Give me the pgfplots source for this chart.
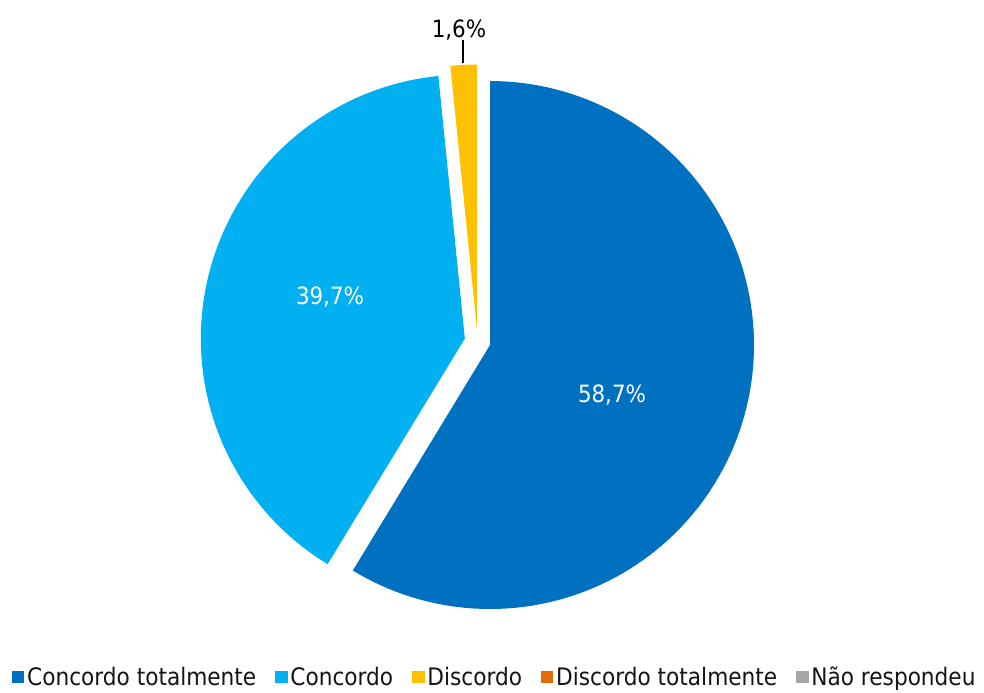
\documentclass[border=0pt]{standalone}
\usepackage{pgfplots}
\pgfplotsset{compat=1.18}
\usepackage{pgfplotstable}
\usepackage{fontspec}
\setmainfont{DejaVu Sans Condensed}
\definecolor{cDark}{HTML}{0070C0}
\definecolor{cLight}{HTML}{00B0F0}
\definecolor{cYellow}{HTML}{FFC000}
\definecolor{cOrange}{HTML}{E46C0A}
\definecolor{cGray}{HTML}{A6A6A6}

\pgfplotstableread{
share
58.7
39.7
1.6
}\piedata

\def\cx{477.5}
\def\cy{347.5}
\def\R{264}
\def\off{13}

\newcommand{\pieslice}[3]{%
  \pgfmathsetmacro{\midang}{(#1+#2)/2}%
  \edef\temp{\noexpand\addplot[fill=#3, draw=none, forget plot, samples at={-1,0,1,...,120}]
    ({\cx+\off*cos(\midang)+(x<0 ? 0 : \R)*cos(#1+(#2-#1)*max(x,0)/120)},
     {\cy+\off*sin(\midang)+(x<0 ? 0 : \R)*sin(#1+(#2-#1)*max(x,0)/120)});}%
  \temp
}

\begin{document}
\begin{tikzpicture}
\pgfplotstablegetelem{0}{share}\of\piedata \let\pa\pgfplotsretval
\pgfplotstablegetelem{1}{share}\of\piedata \let\pb\pgfplotsretval
\pgfplotstablegetelem{2}{share}\of\piedata \let\pc\pgfplotsretval
\pgfmathsetmacro{\aO}{90}
\pgfmathsetmacro{\aA}{90-3.6*\pa}
\pgfmathsetmacro{\aB}{\aA-3.6*\pb}
\pgfmathsetmacro{\aC}{\aB-3.6*\pc}
\begin{axis}[
  scale only axis, width=9.84in, height=6.89in,
  xmin=0, xmax=984, ymin=0, ymax=689,
  hide axis, clip=false,
  legend columns=-1,
  legend image code/.code={\fill[#1, draw=none] (0pt,-4.6pt) rectangle (9.2pt,4.6pt);},
  legend style={at={(axis cs:495,12)}, anchor=center, draw=none, fill=none,
    font=\fontsize{17.4}{20}\selectfont, text=black!92,
    /tikz/every even column/.append style={column sep=11.5pt},
    /tikz/every odd column/.append style={column sep=0pt}},
]
\addplot[draw=none, forget plot] coordinates {(0,0) (984,689)};
\pieslice{\aO}{\aA}{cDark}
\pieslice{\aA}{\aB}{cLight}
\pieslice{\aB}{\aC}{cYellow}
\addplot[black, line width=0.8pt, forget plot] coordinates {(463,626) (463,649)};
\node[text=white, font=\fontsize{17.2}{20}\selectfont] at (axis cs:330,392) {39,7\%};
\node[text=white, font=\fontsize{17.2}{20}\selectfont] at (axis cs:612,294) {58,7\%};
\node[text=black, font=\fontsize{17.2}{20}\selectfont] at (axis cs:459,659) {1,6\%};
\addlegendimage{fill=cDark, draw=none}
\addlegendentry{Concordo totalmente}
\addlegendimage{fill=cLight, draw=none}
\addlegendentry{Concordo}
\addlegendimage{fill=cYellow, draw=none}
\addlegendentry{Discordo}
\addlegendimage{fill=cOrange, draw=none}
\addlegendentry{Discordo totalmente}
\addlegendimage{fill=cGray, draw=none}
\addlegendentry{Não respondeu}
\end{axis}
\end{tikzpicture}
\end{document}
